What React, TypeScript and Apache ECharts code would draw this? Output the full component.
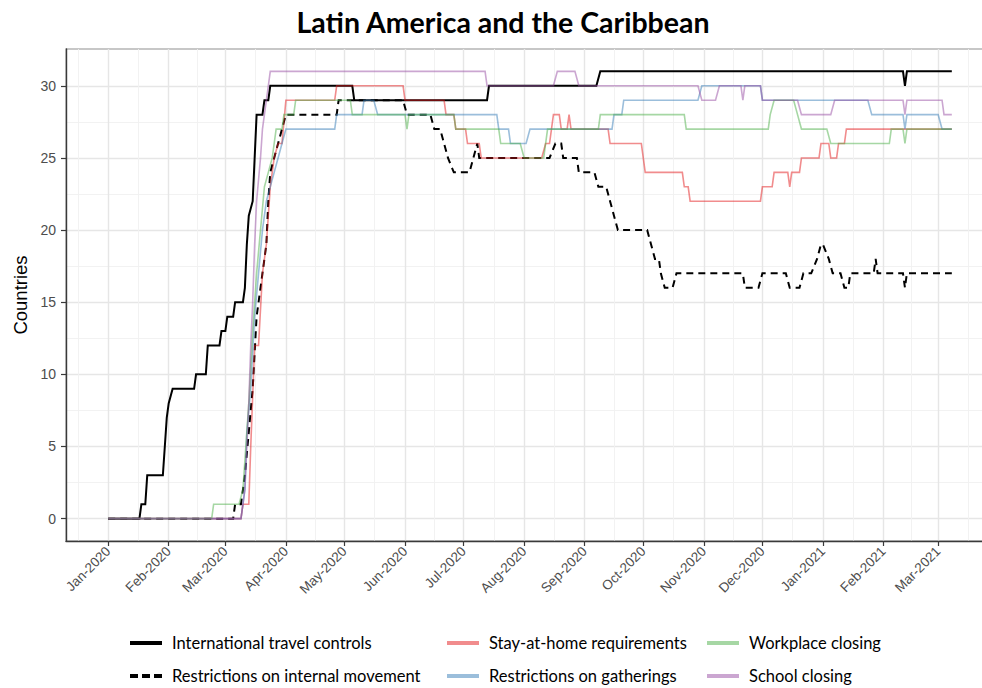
import React, { useEffect, useRef } from "react";
import * as echarts from "echarts";

type Pt = [string, number];

// ---------- axis ticks / labels ----------
const MONTH_TICKS = [
  "2020-01-01", "2020-02-01", "2020-03-01", "2020-04-01", "2020-05-01", "2020-06-01",
  "2020-07-01", "2020-08-01", "2020-09-01", "2020-10-01", "2020-11-01", "2020-12-01",
  "2021-01-01", "2021-02-01", "2021-03-01",
];
const MONTH_BEFORE = "2019-12-01";
const MONTH_AFTER = "2021-04-01";
const MONTH_ABBR = ["Jan", "Feb", "Mar", "Apr", "May", "Jun", "Jul", "Aug", "Sep", "Oct", "Nov", "Dec"];
const Y_TICKS = [0, 5, 10, 15, 20, 25, 30];
const Y_MINOR = [2.5, 7.5, 12.5, 17.5, 22.5, 27.5];

const TITLE = "Latin America and the Caribbean";
const Y_TITLE = "Countries";

// ---------- data: number of countries (date, count) ----------
const travelControls: Pt[] = [
  ["2020-01-01", 0], ["2020-01-17", 0], ["2020-01-18", 1], ["2020-01-20", 1], ["2020-01-21", 3],
  ["2020-01-29", 3], ["2020-01-30", 5], ["2020-01-31", 7], ["2020-02-01", 8], ["2020-02-03", 9],
  ["2020-02-14", 9], ["2020-02-15", 10], ["2020-02-20", 10], ["2020-02-21", 12], ["2020-02-27", 12],
  ["2020-02-28", 13], ["2020-03-01", 13], ["2020-03-02", 14], ["2020-03-05", 14], ["2020-03-06", 15],
  ["2020-03-10", 15], ["2020-03-11", 16], ["2020-03-12", 19], ["2020-03-13", 21], ["2020-03-15", 22],
  ["2020-03-16", 25], ["2020-03-17", 28], ["2020-03-20", 28], ["2020-03-21", 29], ["2020-03-23", 29],
  ["2020-03-24", 30], ["2020-05-05", 30], ["2020-05-06", 29], ["2020-07-13", 29], ["2020-07-14", 30],
  ["2020-09-07", 30], ["2020-09-09", 31], ["2021-02-11", 31], ["2021-02-12", 30], ["2021-02-13", 31],
  ["2021-03-08", 31],
];

const internalMovement: Pt[] = [
  ["2020-01-01", 0], ["2020-03-05", 0], ["2020-03-06", 1], ["2020-03-09", 1], ["2020-03-11", 3],
  ["2020-03-13", 6], ["2020-03-15", 9], ["2020-03-17", 14], ["2020-03-19", 16], ["2020-03-21", 18],
  ["2020-03-22", 19], ["2020-03-23", 22], ["2020-03-24", 24], ["2020-03-26", 25], ["2020-03-28", 26],
  ["2020-03-30", 27], ["2020-04-01", 28], ["2020-04-27", 28], ["2020-04-28", 29], ["2020-05-31", 29],
  ["2020-06-02", 28], ["2020-06-14", 28], ["2020-06-16", 27], ["2020-06-19", 27], ["2020-06-21", 26],
  ["2020-06-23", 25], ["2020-06-26", 24], ["2020-07-04", 24], ["2020-07-06", 25], ["2020-07-08", 26],
  ["2020-07-09", 25], ["2020-08-11", 25], ["2020-08-14", 25], ["2020-08-17", 26], ["2020-08-20", 26],
  ["2020-08-21", 25], ["2020-08-28", 25], ["2020-08-29", 24], ["2020-09-06", 24], ["2020-09-08", 23],
  ["2020-09-12", 23], ["2020-09-14", 22], ["2020-09-16", 21], ["2020-09-18", 20], ["2020-10-03", 20],
  ["2020-10-05", 19], ["2020-10-07", 18], ["2020-10-09", 18], ["2020-10-10", 17], ["2020-10-12", 16],
  ["2020-10-16", 16], ["2020-10-18", 17], ["2020-11-21", 17], ["2020-11-22", 16], ["2020-11-29", 16],
  ["2020-12-01", 17], ["2020-12-13", 17], ["2020-12-15", 16], ["2020-12-20", 16], ["2020-12-22", 17],
  ["2020-12-26", 17], ["2020-12-29", 18], ["2020-12-31", 19], ["2021-01-01", 19], ["2021-01-04", 18],
  ["2021-01-06", 17], ["2021-01-10", 17], ["2021-01-12", 16], ["2021-01-14", 16], ["2021-01-15", 17],
  ["2021-01-27", 17], ["2021-01-28", 18], ["2021-01-29", 17], ["2021-02-11", 17], ["2021-02-12", 16],
  ["2021-02-13", 17], ["2021-03-08", 17],
];

const stayHome: Pt[] = [
  ["2020-01-01", 0], ["2020-03-09", 0], ["2020-03-10", 1], ["2020-03-13", 1], ["2020-03-14", 5],
  ["2020-03-16", 12], ["2020-03-18", 12], ["2020-03-20", 17], ["2020-03-22", 19], ["2020-03-23", 21],
  ["2020-03-24", 23], ["2020-03-26", 25], ["2020-03-28", 26], ["2020-03-30", 26], ["2020-04-01", 29],
  ["2020-04-26", 29], ["2020-04-27", 30], ["2020-05-31", 30], ["2020-06-01", 29], ["2020-06-21", 29],
  ["2020-06-22", 28], ["2020-06-26", 28], ["2020-06-27", 27], ["2020-07-02", 27], ["2020-07-03", 26],
  ["2020-07-09", 26], ["2020-07-10", 25], ["2020-08-10", 25], ["2020-08-12", 26], ["2020-08-14", 26],
  ["2020-08-16", 28], ["2020-08-19", 28], ["2020-08-20", 27], ["2020-08-23", 27], ["2020-08-24", 28],
  ["2020-08-25", 27], ["2020-09-13", 27], ["2020-09-14", 26], ["2020-09-30", 26], ["2020-10-02", 24],
  ["2020-10-21", 24], ["2020-10-22", 23], ["2020-10-24", 23], ["2020-10-25", 22], ["2020-11-30", 22],
  ["2020-12-01", 23], ["2020-12-06", 23], ["2020-12-07", 24], ["2020-12-14", 24], ["2020-12-15", 23],
  ["2020-12-16", 24], ["2020-12-20", 24], ["2020-12-21", 25], ["2020-12-30", 25], ["2020-12-31", 26],
  ["2021-01-04", 26], ["2021-01-05", 25], ["2021-01-08", 25], ["2021-01-09", 26], ["2021-01-12", 26],
  ["2021-01-13", 27], ["2021-03-08", 27],
];

const gatherings: Pt[] = [
  ["2020-01-01", 0], ["2020-03-09", 0], ["2020-03-11", 2], ["2020-03-12", 6], ["2020-03-14", 9],
  ["2020-03-16", 14], ["2020-03-18", 17], ["2020-03-20", 20], ["2020-03-22", 22], ["2020-03-24", 23],
  ["2020-03-26", 24], ["2020-03-28", 25], ["2020-03-30", 26], ["2020-04-01", 27], ["2020-04-26", 27],
  ["2020-04-27", 28], ["2020-05-10", 28], ["2020-05-11", 29], ["2020-05-16", 29], ["2020-05-18", 28],
  ["2020-07-18", 28], ["2020-07-19", 27], ["2020-07-24", 27], ["2020-07-25", 26], ["2020-08-02", 26],
  ["2020-08-04", 27], ["2020-09-15", 27], ["2020-09-16", 28], ["2020-09-20", 28], ["2020-09-21", 29],
  ["2020-10-29", 29], ["2020-10-31", 30], ["2020-11-30", 30], ["2020-12-01", 29], ["2021-01-24", 29],
  ["2021-01-26", 28], ["2021-02-11", 28], ["2021-02-12", 27], ["2021-02-13", 28], ["2021-03-01", 28],
  ["2021-03-03", 27], ["2021-03-08", 27],
];

const workplace: Pt[] = [
  ["2020-01-01", 0], ["2020-02-23", 0], ["2020-02-24", 1], ["2020-03-08", 1], ["2020-03-10", 2],
  ["2020-03-11", 4], ["2020-03-13", 8], ["2020-03-15", 13], ["2020-03-17", 17], ["2020-03-19", 20],
  ["2020-03-21", 23], ["2020-03-23", 24], ["2020-03-25", 25], ["2020-03-26", 26], ["2020-03-27", 27],
  ["2020-03-30", 27], ["2020-03-31", 28], ["2020-04-05", 28], ["2020-04-06", 29], ["2020-05-04", 29],
  ["2020-05-05", 28], ["2020-06-01", 28], ["2020-06-02", 27], ["2020-06-03", 28], ["2020-06-26", 28],
  ["2020-06-27", 27], ["2020-07-19", 27], ["2020-07-20", 26], ["2020-07-30", 26], ["2020-08-01", 25],
  ["2020-08-11", 25], ["2020-08-13", 27], ["2020-09-08", 27], ["2020-09-09", 28], ["2020-10-22", 28],
  ["2020-10-23", 27], ["2020-12-04", 27], ["2020-12-05", 28], ["2020-12-07", 29], ["2020-12-17", 29],
  ["2020-12-19", 28], ["2020-12-21", 27], ["2021-01-03", 27], ["2021-01-05", 26], ["2021-02-04", 26],
  ["2021-02-05", 27], ["2021-02-11", 27], ["2021-02-12", 26], ["2021-02-13", 27], ["2021-03-08", 27],
];

const school: Pt[] = [
  ["2020-01-01", 0], ["2020-03-09", 0], ["2020-03-11", 2], ["2020-03-13", 8], ["2020-03-14", 12],
  ["2020-03-15", 15], ["2020-03-16", 19], ["2020-03-17", 22], ["2020-03-19", 25], ["2020-03-20", 27],
  ["2020-03-22", 29], ["2020-03-23", 30], ["2020-03-24", 31], ["2020-07-12", 31], ["2020-07-13", 30],
  ["2020-08-16", 30], ["2020-08-18", 31], ["2020-08-27", 31], ["2020-08-29", 30], ["2020-10-29", 30],
  ["2020-10-31", 29], ["2020-11-07", 29], ["2020-11-09", 30], ["2020-11-20", 30], ["2020-11-21", 29],
  ["2020-11-22", 30], ["2020-11-30", 30], ["2020-12-01", 29], ["2020-12-19", 29], ["2020-12-21", 28],
  ["2021-01-05", 28], ["2021-01-07", 29], ["2021-02-11", 29], ["2021-02-12", 28], ["2021-02-13", 29],
  ["2021-03-03", 29], ["2021-03-04", 28], ["2021-03-08", 28],
];

// ---------- series styling ----------
const DASH_ICON = "path://M0,0H8V4H0Z M12,0H20V4H12Z M24,0H32V4H24Z";
const SERIES_DEFS = [
  { name: "International travel controls", data: travelControls, color: "#000000", width: 2, dash: "solid" as any, icon: "rect" },
  { name: "Restrictions on internal movement", data: internalMovement, color: "#000000", width: 2, dash: [7, 5] as any, icon: DASH_ICON },
  { name: "Stay-at-home requirements", data: stayHome, color: "rgba(228,26,28,0.5)", width: 1.6, dash: "solid" as any, icon: "rect" },
  { name: "Restrictions on gatherings", data: gatherings, color: "rgba(55,126,184,0.5)", width: 1.6, dash: "solid" as any, icon: "rect" },
  { name: "Workplace closing", data: workplace, color: "rgba(77,175,74,0.5)", width: 1.6, dash: "solid" as any, icon: "rect" },
  { name: "School closing", data: school, color: "rgba(152,78,163,0.5)", width: 1.6, dash: "solid" as any, icon: "rect" },
];

const LEGEND_COLUMNS = [
  ["International travel controls", "Restrictions on internal movement"],
  ["Stay-at-home requirements", "Restrictions on gatherings"],
  ["Workplace closing", "School closing"],
];
const LEGEND_LEFT = [130, 447, 707];

const toTime = (s: string) => {
  const [y, m, d] = s.split("-").map(Number);
  return new Date(y, m - 1, d).getTime();
};

export default function App() {
  const ref = useRef<HTMLDivElement>(null);

  useEffect(() => {
    if (!ref.current) return;
    const chart = echarts.init(ref.current, undefined, { renderer: "svg" });

    const allTimes = SERIES_DEFS.flatMap((s) => s.data.map((p) => toTime(p[0])));
    const allVals = SERIES_DEFS.flatMap((s) => s.data.map((p) => p[1]));
    const tMin = Math.min(...allTimes);
    const tMax = Math.max(...allTimes);
    const tSpan = tMax - tMin;
    const xMin = tMin - 0.05 * tSpan;
    const xMax = tMax + 0.05 * tSpan;
    const vMax = Math.max(...allVals);
    const yMin = -0.05 * vMax;
    const yMax = vMax * 1.05;

    const majorX = MONTH_TICKS.map(toTime);
    const bounds = [toTime(MONTH_BEFORE), ...majorX, toTime(MONTH_AFTER)];
    const minorX = bounds.slice(1).map((t, i) => (bounds[i] + t) / 2).filter((t) => t > xMin && t < xMax);

    const axisColor = "#3a3a3a";
    const labelColor = "#4d4d4d";
    const sans = "'Liberation Sans', Arial, sans-serif";
    const legendFont = "Lato, 'Open Sans', sans-serif";

    const option: any = {
      animation: false,
      backgroundColor: "#ffffff",
      grid: {
        left: 66,
        top: 49,
        width: 928,
        height: 492,
        show: true,
        borderColor: "#b5b5b5",
        borderWidth: 1.4,
        backgroundColor: "#ffffff",
      },
      graphic: [
        {
          type: "text",
          x: 503,
          y: 22,
          style: {
            text: TITLE,
            fill: "#000",
            font: `bold 28.5px ${legendFont}`,
            textAlign: "center",
            textVerticalAlign: "middle",
          },
        },
      ],
      xAxis: [
        {
          type: "value",
          min: xMin,
          max: xMax,
          position: "bottom",
          axisLine: { show: true, onZero: false, lineStyle: { color: axisColor, width: 1.4 } },
          axisTick: { show: true, length: 5, customValues: majorX, lineStyle: { color: axisColor, width: 1.2 } },
          axisLabel: {
            customValues: majorX,
            rotate: 45,
            margin: 8,
            color: labelColor,
            fontSize: 13.5,
            fontFamily: sans,
            hideOverlap: false,
            formatter: (v: number) => {
              const d = new Date(v);
              return `${MONTH_ABBR[d.getMonth()]}-${d.getFullYear()}`;
            },
          },
          splitLine: { show: true, lineStyle: { color: "#e6e6e6", width: 1.4 } },
        },
        {
          type: "value",
          min: xMin,
          max: xMax,
          position: "top",
          axisLine: { show: false },
          axisTick: { show: false, customValues: minorX },
          axisLabel: { show: false, customValues: minorX },
          splitLine: { show: true, lineStyle: { color: "#f0f0f0", width: 0.9 } },
        },
      ],
      yAxis: [
        {
          type: "value",
          min: yMin,
          max: yMax,
          name: Y_TITLE,
          nameLocation: "middle",
          nameGap: 36,
          nameTextStyle: { color: "#000", fontSize: 18.5, fontFamily: sans },
          axisLine: { show: true, onZero: false, lineStyle: { color: axisColor, width: 1.4 } },
          axisTick: { show: true, length: 5, customValues: Y_TICKS, lineStyle: { color: axisColor, width: 1.2 } },
          axisLabel: { customValues: Y_TICKS, margin: 10, color: labelColor, fontSize: 14, fontFamily: sans },
          splitLine: { show: true, lineStyle: { color: "#e6e6e6", width: 1.4 } },
        },
        {
          type: "value",
          min: yMin,
          max: yMax,
          position: "right",
          axisLine: { show: false },
          axisTick: { show: false, customValues: Y_MINOR },
          axisLabel: { show: false, customValues: Y_MINOR },
          splitLine: { show: true, lineStyle: { color: "#f0f0f0", width: 0.9 } },
        },
      ],
      legend: LEGEND_COLUMNS.map((names, ci) => ({
        orient: "vertical",
        left: LEGEND_LEFT[ci],
        top: 634,
        padding: 0,
        itemWidth: 32,
        itemHeight: 4,
        itemGap: 15,
        selectedMode: false,
        textStyle: { color: "#000", fontSize: 16.5, lineHeight: 18, fontFamily: legendFont, padding: [0, 0, 0, 5] },
        data: names.map((n) => {
          const def = SERIES_DEFS.find((s) => s.name === n)!;
          return { name: n, icon: def.icon, itemStyle: { color: def.color } };
        }),
      })),
      series: SERIES_DEFS.map((s, i) => ({
        type: "line",
        name: s.name,
        xAxisIndex: 0,
        yAxisIndex: 0,
        data: s.data.map((p) => [toTime(p[0]), p[1]]),
        symbol: "none",
        showSymbol: false,
        silent: true,
        z: 2 + i,
        itemStyle: { color: s.color },
        lineStyle: { color: s.color, width: s.width, type: s.dash, cap: "butt", join: "miter" },
      })),
    };

    chart.setOption(option);
    return () => chart.dispose();
  }, []);

  return (
    <div style={{ position: "absolute", left: 0, top: 0, width: 982, height: 688, overflow: "hidden" }}>
      <div ref={ref} style={{ width: 994, height: 700 }} />
    </div>
  );
}
